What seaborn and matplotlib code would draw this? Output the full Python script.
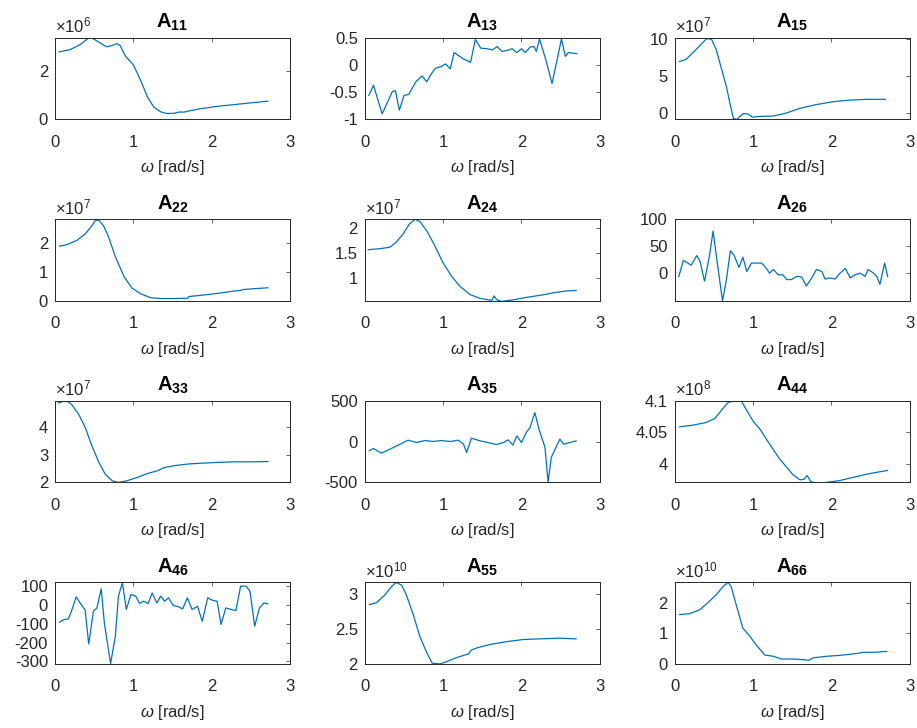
import numpy as np
import matplotlib
matplotlib.use("Agg")
import matplotlib.pyplot as plt
import seaborn as sns
from matplotlib.ticker import FuncFormatter

LINE = "#0072BD"
TXT = "#262626"

# values are the mantissas shown on each axis, exponent kept separately
w11 = [0.05, 0.19, 0.32, 0.42, 0.47, 0.54, 0.66, 0.73, 0.79, 0.83, 0.90, 1.0, 1.09, 1.18,
       1.26, 1.35, 1.43, 1.52, 1.58, 1.65, 1.73, 1.86, 2.08, 2.29, 2.5, 2.72]
a11 = [2.78, 2.87, 3.08, 3.33, 3.36, 3.22, 2.99, 3.05, 3.12, 3.05, 2.6, 2.25, 1.63, 0.93,
       0.51, 0.31, 0.24, 0.25, 0.3, 0.3, 0.36, 0.44, 0.54, 0.61, 0.68, 0.75]

w13 = [0.05, 0.11, 0.22, 0.35, 0.39, 0.44, 0.5, 0.56, 0.65, 0.73, 0.79, 0.84, 0.9, 0.97,
       1.03, 1.09, 1.14, 1.2, 1.26, 1.35, 1.41, 1.48, 1.56, 1.63, 1.69, 1.75, 1.82, 1.88,
       1.94, 2.0, 2.05, 2.11, 2.16, 2.19, 2.23, 2.31, 2.39, 2.46, 2.51, 2.56, 2.6, 2.65, 2.71]
a13 = [-0.56, -0.37, -0.9, -0.49, -0.47, -0.83, -0.56, -0.54, -0.31, -0.2, -0.31, -0.18,
       -0.06, -0.03, 0.02, -0.07, 0.23, 0.17, 0.11, 0.05, 0.47, 0.31, 0.3, 0.28, 0.34, 0.25,
       0.27, 0.3, 0.23, 0.3, 0.23, 0.33, 0.34, 0.25, 0.48, 0.1, -0.34, 0.13, 0.48, 0.16,
       0.23, 0.22, 0.21]

w15 = [0.06, 0.145, 0.27, 0.36, 0.41, 0.47, 0.53, 0.59, 0.66, 0.71, 0.75, 0.8, 0.83, 0.88,
       0.94, 0.99, 1.09, 1.26, 1.41, 1.6, 1.81, 2.03, 2.24, 2.45, 2.69]
a15 = [6.9, 7.2, 8.5, 9.5, 10.0, 9.9, 8.5, 6.2, 3.5, 1.0, -0.8, -0.9, -0.5, -0.1, -0.2,
       -0.6, -0.5, -0.45, -0.1, 0.6, 1.1, 1.5, 1.7, 1.8, 1.8]

w22 = [0.056, 0.15, 0.28, 0.385, 0.47, 0.51, 0.556, 0.62, 0.685, 0.77, 0.88, 0.98, 1.09,
       1.22, 1.35, 1.52, 1.65, 1.69, 1.71, 1.86, 2.08, 2.29, 2.37, 2.4, 2.55, 2.72]
a22 = [1.88, 1.93, 2.08, 2.3, 2.58, 2.75, 2.78, 2.58, 2.19, 1.52, 0.84, 0.45, 0.25, 0.11,
       0.08, 0.08, 0.09, 0.08, 0.15, 0.19, 0.26, 0.34, 0.36, 0.39, 0.42, 0.45]

w24 = [0.04, 0.19, 0.32, 0.4, 0.49, 0.57, 0.64, 0.7, 0.79, 0.89, 1.0, 1.11, 1.21, 1.34,
       1.47, 1.62, 1.65, 1.68, 1.74, 1.89, 2.06, 2.23, 2.4, 2.57, 2.7]
a24 = [1.57, 1.59, 1.62, 1.72, 1.89, 2.09, 2.18, 2.14, 1.95, 1.66, 1.3, 1.03, 0.84, 0.67,
       0.59, 0.55, 0.64, 0.57, 0.53, 0.56, 0.61, 0.65, 0.7, 0.74, 0.75]

w26 = [0.05, 0.11, 0.21, 0.28, 0.32, 0.38, 0.44, 0.49, 0.55, 0.61, 0.66, 0.71, 0.76, 0.82,
       0.87, 0.92, 0.98, 1.04, 1.11, 1.17, 1.21, 1.26, 1.32, 1.38, 1.43, 1.49, 1.56, 1.62,
       1.68, 1.75, 1.81, 1.88, 1.92, 1.98, 2.05, 2.11, 2.18, 2.24, 2.3, 2.37, 2.43, 2.47,
       2.54, 2.58, 2.62, 2.68, 2.72]
a26 = [-8, 23, 14, 32, 23, -16, 29, 78, 11, -53, -13, 41, 32, 10, 29, 2, 18, 18, 18, 8,
       -1, 6, -4, -4, -13, -13, -7, -8, -25, -10, 6, 2, -12, -10, -12, -1, 8, -10, -4, -1,
       -7, 6, -1, -7, -22, 18, -8]

w33 = [0.04, 0.11, 0.15, 0.21, 0.3, 0.385, 0.47, 0.56, 0.64, 0.73, 0.81, 0.92, 1.05, 1.18,
       1.31, 1.39, 1.52, 1.69, 1.86, 2.08, 2.29, 2.5, 2.72]
a33 = [4.85, 4.92, 4.93, 4.81, 4.46, 3.98, 3.32, 2.72, 2.3, 2.06, 2.0, 2.06, 2.18, 2.32,
       2.42, 2.53, 2.6, 2.66, 2.69, 2.72, 2.74, 2.74, 2.75]

w35 = [0.055, 0.11, 0.21, 0.32, 0.45, 0.55, 0.66, 0.77, 0.87, 0.98, 1.09, 1.19, 1.26, 1.3,
       1.36, 1.47, 1.57, 1.68, 1.77, 1.83, 1.89, 1.94, 2.0, 2.06, 2.11, 2.17, 2.23, 2.3,
       2.34, 2.38, 2.44, 2.49, 2.54, 2.62, 2.7]
a35 = [-112, -84, -141, -92, -31, 18, -10, 14, 2, 14, 2, 18, -31, -133, 43, 10, -10, -35,
       -10, 22, -43, 71, -10, 112, 173, 357, 133, -71, -500, -194, -71, 31, -31, -10, 10]

w44 = [0.06, 0.23, 0.4, 0.51, 0.59, 0.68, 0.76, 0.85, 0.91, 1.0, 1.09, 1.17, 1.26, 1.34,
       1.43, 1.51, 1.6, 1.65, 1.69, 1.74, 1.81, 1.94, 2.11, 2.28, 2.45, 2.58, 2.72]
a44 = [4.059, 4.0616, 4.0658, 4.072, 4.084, 4.0974, 4.1, 4.1, 4.087, 4.068, 4.055, 4.0395,
       4.0226, 4.008, 3.995, 3.983, 3.975, 3.976, 3.982, 3.972, 3.97, 3.971, 3.974, 3.979,
       3.984, 3.987, 3.99]

w46 = [0.056, 0.115, 0.17, 0.21, 0.27, 0.32, 0.385, 0.43, 0.49, 0.535, 0.59, 0.63, 0.67,
       0.71, 0.77, 0.81, 0.86, 0.91, 0.97, 1.03, 1.08, 1.13, 1.19, 1.24, 1.3, 1.35, 1.4,
       1.45, 1.51, 1.56, 1.63, 1.69, 1.75, 1.82, 1.88, 1.95, 2.01, 2.07, 2.12, 2.18, 2.25,
       2.31, 2.37, 2.44, 2.49, 2.55, 2.61, 2.67, 2.72]
a46 = [-92, -78, -74, -33, 43, 11, -28, -208, -33, -16, 86, -96, -206, -312, -167, 47, 118,
       -24, 56, 47, 8, 20, 8, 64, 11, 47, 20, 38, -3, -7, -21, 38, -24, -7, -87, 38, 25, 20,
       -104, -16, -24, -30, 100, 100, 73, -113, -16, 11, 6]

w55 = [0.055, 0.15, 0.255, 0.34, 0.4, 0.47, 0.53, 0.62, 0.7, 0.79, 0.86, 0.96, 1.06, 1.17,
       1.28, 1.32, 1.36, 1.43, 1.6, 1.81, 2.02, 2.23, 2.49, 2.7]
a55 = [2.85, 2.88, 2.99, 3.11, 3.17, 3.13, 2.99, 2.7, 2.4, 2.16, 2.01, 2.0, 2.04, 2.09,
       2.13, 2.14, 2.2, 2.23, 2.28, 2.32, 2.35, 2.36, 2.37, 2.36]

w66 = [0.06, 0.19, 0.32, 0.42, 0.53, 0.62, 0.68, 0.72, 0.79, 0.87, 0.96, 1.04, 1.15, 1.26,
       1.36, 1.51, 1.64, 1.71, 1.77, 1.94, 2.11, 2.32, 2.41, 2.54, 2.71]
a66 = [1.61, 1.64, 1.77, 1.99, 2.26, 2.53, 2.66, 2.53, 1.88, 1.17, 0.9, 0.62, 0.29, 0.25,
       0.16, 0.16, 0.14, 0.12, 0.2, 0.25, 0.28, 0.34, 0.38, 0.38, 0.41]

labels = ["11", "13", "15", "22", "24", "26", "33", "35", "44", "46", "55", "66"]
omegas = [w11, w13, w15, w22, w24, w26, w33, w35, w44, w46, w55, w66]
values = [a11, a13, a15, a22, a24, a26, a33, a35, a44, a46, a55, a66]
exponents = [6, 0, 7, 7, 7, 0, 7, 0, 8, 0, 10, 10]
ylims = [(0, 3.36), (-1, 0.5), (-0.9, 10.1), (0, 2.8), (0.54, 2.18), (-53, 100),
         (2.0, 4.93), (-500, 500), (3.971, 4.1), (-314, 120), (2.0, 3.17), (0, 2.66)]
yticks = [[0, 2], [-1, -0.5, 0, 0.5], [0, 5, 10], [0, 1, 2], [1, 1.5, 2], [0, 50, 100],
          [2, 3, 4], [-500, 0, 500], [4, 4.05, 4.1], [-300, -200, -100, 0, 100],
          [2, 2.5, 3], [0, 1, 2]]

sns.set_style("white")
plt.rcParams["font.family"] = ["Liberation Sans", "DejaVu Sans"]
plt.rcParams["mathtext.fontset"] = "custom"
plt.rcParams["mathtext.rm"] = "Liberation Sans"
plt.rcParams["mathtext.it"] = "Liberation Sans:italic"
plt.rcParams["mathtext.bf"] = "Liberation Sans:bold"
plt.rcParams["axes.unicode_minus"] = False

fig, axes = plt.subplots(4, 3, figsize=(9.17, 7.28), dpi=100)
fig.subplots_adjust(left=0.060, right=0.992, top=0.948, bottom=0.088,
                    wspace=0.319, hspace=1.227)

for ax, lab, w, v, e, yl, yt in zip(axes.flat, labels, omegas, values, exponents, ylims, yticks):
    scale = 10.0 ** e
    sns.lineplot(x=w, y=np.array(v) * scale, ax=ax, color=LINE, linewidth=0.9)
    ax.set_xlim(0, 3)
    ax.set_xticks([0, 1, 2, 3])
    ax.set_ylim(yl[0] * scale, yl[1] * scale)
    ax.set_yticks(np.array(yt) * scale)
    ax.yaxis.set_major_formatter(FuncFormatter(lambda val, pos, s=scale: f"{val / s:g}"))
    if e:
        ax.text(0.0, 1.03, rf"$\times\mathregular{{10^{{{e}}}}}$", transform=ax.transAxes,
                fontsize=12, color=TXT, ha="left", va="bottom")
    ax.set_title(rf"$\mathbf{{A_{{{lab}}}}}$", fontsize=14.5, pad=7, color="black")
    ax.set_xlabel(r"$\omega$ [rad/s]", fontsize=12, color=TXT, labelpad=6)
    ax.set_ylabel("")
    ax.tick_params(direction="in", top=True, right=True, length=3, width=0.5,
                   labelsize=12, colors=TXT)
    ax.tick_params(axis="x", pad=11)
    ax.tick_params(axis="y", pad=5)
    for sp in ax.spines.values():
        sp.set_visible(True)
        sp.set_linewidth(0.7)
        sp.set_color(TXT)

fig.savefig("out.png", dpi=100)
